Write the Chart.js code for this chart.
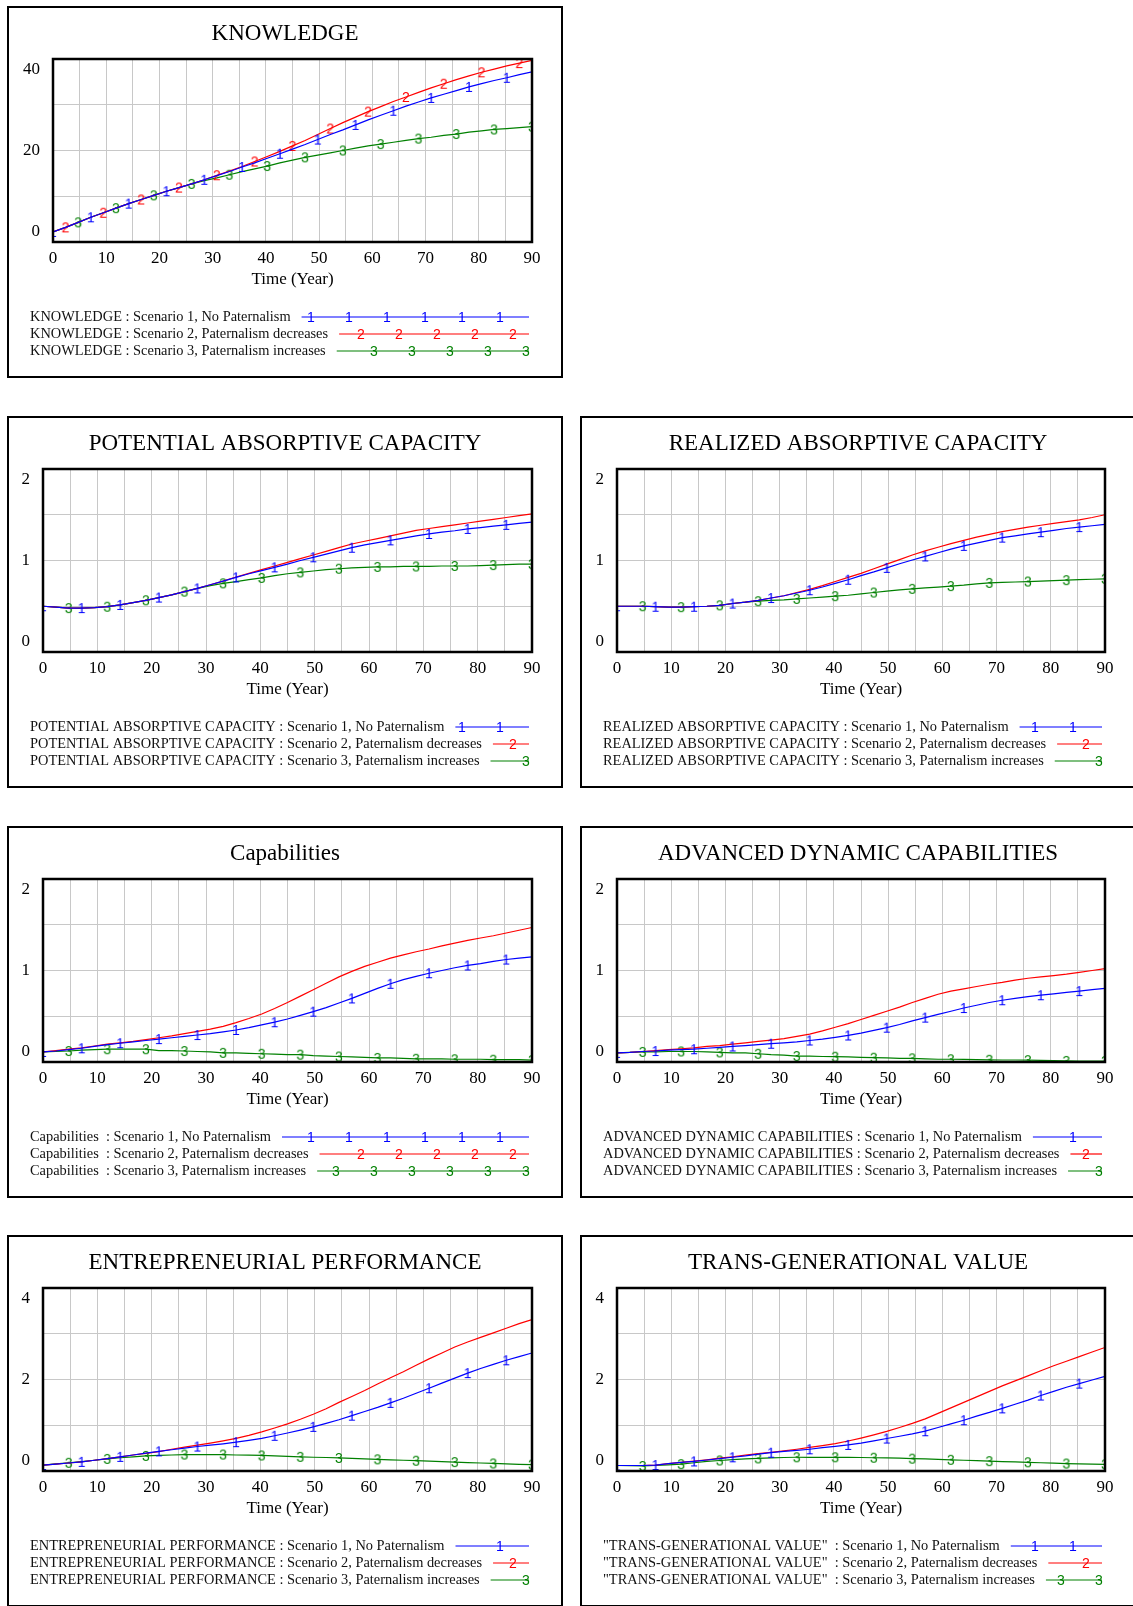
<!DOCTYPE html>
<html>
<head>
<meta charset="utf-8">
<script src="https://cdn.jsdelivr.net/npm/chart.js@4.4.0/dist/chart.umd.min.js"></script>
<style>
  html, body { margin: 0; padding: 0; background: #fff; }
  body { width: 1133px; height: 1606px; position: relative; overflow: hidden; }
  .panel { position: absolute; width: 556px; height: 372px; border: 2px solid #000; box-sizing: border-box; background: #fff; }
  .panel canvas { display: block; }
</style>
</head>
<body>
<div class="panel" style="left:7px;top:6px"><canvas id="c0" width="552" height="368"></canvas></div>
<div class="panel" style="left:7px;top:416px"><canvas id="c1" width="552" height="368"></canvas></div>
<div class="panel" style="left:580px;top:416px"><canvas id="c2" width="552" height="368"></canvas></div>
<div class="panel" style="left:7px;top:826px"><canvas id="c3" width="552" height="368"></canvas></div>
<div class="panel" style="left:580px;top:826px"><canvas id="c4" width="552" height="368"></canvas></div>
<div class="panel" style="left:7px;top:1235px"><canvas id="c5" width="552" height="368"></canvas></div>
<div class="panel" style="left:580px;top:1235px"><canvas id="c6" width="552" height="368"></canvas></div>
<script>
// simulation time (Year)
const times = [0, 2.37, 4.74, 7.11, 9.47, 11.84, 14.21, 16.58, 18.95, 21.32, 23.68, 26.05, 28.42, 30.79, 33.16, 35.53, 37.89, 40.26, 42.63, 45,
  47.37, 49.74, 52.11, 54.47, 56.84, 59.21, 61.58, 63.95, 66.32, 68.68, 71.05, 73.42, 75.79, 78.16, 80.53, 82.89, 85.26, 87.63, 90];

const scenarios = ['Scenario 1, No Paternalism', 'Scenario 2, Paternalism decreases', 'Scenario 3, Paternalism increases'];

const knowledge1 = [2.2, 3.2, 4.3, 5.4, 6.4, 7.4, 8.4, 9.3, 10.2, 11.1, 11.9, 12.7, 13.6, 14.5, 15.4, 16.4, 17.3, 18.3, 19.3, 20.3,
  21.3, 22.4, 23.5, 24.5, 25.6, 26.7, 27.7, 28.7, 29.7, 30.6, 31.5, 32.3, 33.1, 33.9, 34.6, 35.3, 35.9, 36.6, 37.2];
const knowledge2 = [2.2, 3.2, 4.3, 5.4, 6.4, 7.4, 8.4, 9.3, 10.2, 11.1, 11.9, 12.7, 13.6, 14.6, 15.5, 16.5, 17.6, 18.7, 19.8, 21.0,
  22.2, 23.5, 24.8, 26.1, 27.3, 28.5, 29.6, 30.7, 31.7, 32.7, 33.7, 34.6, 35.5, 36.3, 37.1, 37.8, 38.5, 39.1, 39.7];
const knowledge3 = [2.2, 3.2, 4.3, 5.4, 6.4, 7.4, 8.4, 9.3, 10.2, 11.1, 11.9, 12.7, 13.4, 14.0, 14.7, 15.4, 16.0, 16.6, 17.3, 17.9,
  18.5, 19.0, 19.5, 20.0, 20.5, 21.0, 21.4, 21.8, 22.2, 22.6, 22.9, 23.3, 23.6, 24.0, 24.3, 24.6, 24.8, 25.0, 25.2];

const potential1 = [0.50, 0.49, 0.48, 0.48, 0.485, 0.495, 0.515, 0.54, 0.565, 0.595, 0.625, 0.66, 0.695, 0.735, 0.775, 0.815, 0.855, 0.89, 0.925, 0.96,
  1.00, 1.035, 1.07, 1.105, 1.14, 1.17, 1.195, 1.22, 1.245, 1.27, 1.29, 1.31, 1.325, 1.345, 1.36, 1.375, 1.39, 1.405, 1.42];
const potential2 = [0.50, 0.49, 0.48, 0.48, 0.485, 0.495, 0.515, 0.54, 0.565, 0.595, 0.625, 0.66, 0.695, 0.735, 0.775, 0.82, 0.86, 0.90, 0.94, 0.98,
  1.02, 1.06, 1.10, 1.14, 1.18, 1.21, 1.24, 1.27, 1.30, 1.33, 1.35, 1.37, 1.39, 1.41, 1.43, 1.45, 1.47, 1.49, 1.51];
const potential3 = [0.50, 0.49, 0.48, 0.48, 0.485, 0.495, 0.515, 0.54, 0.565, 0.595, 0.625, 0.66, 0.695, 0.725, 0.75, 0.77, 0.79, 0.81, 0.835, 0.855,
  0.87, 0.885, 0.90, 0.91, 0.92, 0.925, 0.93, 0.93, 0.935, 0.935, 0.935, 0.94, 0.94, 0.94, 0.945, 0.95, 0.955, 0.96, 0.96];

const realized1 = [0.50, 0.50, 0.50, 0.495, 0.49, 0.49, 0.495, 0.50, 0.51, 0.53, 0.545, 0.565, 0.59, 0.615, 0.645, 0.675, 0.71, 0.75, 0.79, 0.835,
  0.875, 0.92, 0.965, 1.005, 1.045, 1.085, 1.125, 1.16, 1.19, 1.22, 1.25, 1.27, 1.29, 1.31, 1.33, 1.35, 1.365, 1.38, 1.395];
const realized2 = [0.50, 0.50, 0.50, 0.495, 0.49, 0.49, 0.495, 0.50, 0.51, 0.53, 0.545, 0.565, 0.59, 0.615, 0.65, 0.685, 0.725, 0.77, 0.815, 0.86,
  0.91, 0.96, 1.01, 1.06, 1.105, 1.145, 1.185, 1.22, 1.255, 1.285, 1.315, 1.34, 1.365, 1.385, 1.405, 1.425, 1.445, 1.47, 1.50];
const realized3 = [0.50, 0.50, 0.50, 0.495, 0.49, 0.49, 0.495, 0.50, 0.51, 0.53, 0.545, 0.555, 0.565, 0.57, 0.58, 0.59, 0.60, 0.61, 0.62, 0.635,
  0.65, 0.665, 0.68, 0.69, 0.70, 0.71, 0.72, 0.73, 0.745, 0.755, 0.76, 0.765, 0.77, 0.775, 0.78, 0.785, 0.79, 0.795, 0.80];

const capabilities1 = [0.11, 0.12, 0.135, 0.15, 0.17, 0.19, 0.205, 0.22, 0.235, 0.25, 0.265, 0.28, 0.295, 0.31, 0.33, 0.35, 0.375, 0.405, 0.435, 0.47,
  0.51, 0.55, 0.595, 0.645, 0.695, 0.75, 0.805, 0.855, 0.90, 0.935, 0.97, 1.00, 1.03, 1.055, 1.075, 1.10, 1.12, 1.135, 1.15];
const capabilities2 = [0.11, 0.125, 0.14, 0.155, 0.175, 0.195, 0.21, 0.225, 0.245, 0.265, 0.285, 0.31, 0.335, 0.36, 0.39, 0.43, 0.475, 0.525, 0.585, 0.65,
  0.72, 0.79, 0.86, 0.93, 0.99, 1.045, 1.09, 1.135, 1.17, 1.205, 1.235, 1.27, 1.30, 1.33, 1.355, 1.38, 1.41, 1.44, 1.47];
const capabilities3 = [0.11, 0.115, 0.12, 0.13, 0.135, 0.14, 0.14, 0.14, 0.14, 0.125, 0.125, 0.12, 0.115, 0.11, 0.10, 0.10, 0.095, 0.09, 0.085, 0.08,
  0.08, 0.07, 0.065, 0.06, 0.055, 0.05, 0.045, 0.045, 0.04, 0.035, 0.035, 0.035, 0.03, 0.03, 0.03, 0.025, 0.025, 0.025, 0.02];

const advanced1 = [0.10, 0.105, 0.115, 0.12, 0.13, 0.135, 0.14, 0.15, 0.16, 0.17, 0.18, 0.19, 0.20, 0.21, 0.22, 0.235, 0.25, 0.27, 0.29, 0.315,
  0.345, 0.375, 0.41, 0.45, 0.485, 0.52, 0.555, 0.59, 0.62, 0.65, 0.675, 0.695, 0.715, 0.73, 0.745, 0.76, 0.775, 0.79, 0.805];
const advanced2 = [0.10, 0.105, 0.115, 0.125, 0.135, 0.145, 0.155, 0.17, 0.18, 0.195, 0.21, 0.225, 0.24, 0.255, 0.28, 0.305, 0.34, 0.38, 0.42, 0.465,
  0.51, 0.555, 0.60, 0.65, 0.695, 0.74, 0.775, 0.80, 0.825, 0.85, 0.87, 0.895, 0.915, 0.93, 0.945, 0.96, 0.98, 1.00, 1.02];
const advanced3 = [0.10, 0.105, 0.11, 0.11, 0.115, 0.115, 0.115, 0.11, 0.105, 0.10, 0.10, 0.09, 0.08, 0.075, 0.065, 0.065, 0.06, 0.058, 0.055, 0.05,
  0.047, 0.045, 0.04, 0.04, 0.035, 0.03, 0.03, 0.028, 0.025, 0.024, 0.022, 0.022, 0.02, 0.018, 0.015, 0.012, 0.01, 0.01, 0.01];

const performance1 = [0.13, 0.15, 0.175, 0.20, 0.235, 0.27, 0.31, 0.35, 0.39, 0.43, 0.465, 0.50, 0.535, 0.565, 0.595, 0.63, 0.67, 0.715, 0.77, 0.83,
  0.895, 0.965, 1.04, 1.12, 1.21, 1.30, 1.39, 1.49, 1.59, 1.70, 1.81, 1.92, 2.03, 2.14, 2.24, 2.33, 2.42, 2.50, 2.58];
const performance2 = [0.13, 0.15, 0.175, 0.20, 0.235, 0.27, 0.31, 0.35, 0.385, 0.425, 0.475, 0.52, 0.565, 0.61, 0.66, 0.715, 0.78, 0.855, 0.94, 1.03,
  1.13, 1.24, 1.36, 1.50, 1.63, 1.76, 1.90, 2.04, 2.17, 2.31, 2.45, 2.58, 2.71, 2.82, 2.92, 3.02, 3.12, 3.22, 3.31];
const performance3 = [0.13, 0.155, 0.18, 0.205, 0.235, 0.265, 0.29, 0.31, 0.33, 0.34, 0.35, 0.36, 0.36, 0.36, 0.36, 0.35, 0.345, 0.34, 0.33, 0.32,
  0.31, 0.30, 0.295, 0.285, 0.275, 0.265, 0.255, 0.245, 0.235, 0.225, 0.215, 0.205, 0.195, 0.185, 0.175, 0.165, 0.155, 0.145, 0.14];

const transValue1 = [0.12, 0.12, 0.12, 0.13, 0.16, 0.19, 0.21, 0.24, 0.27, 0.30, 0.33, 0.37, 0.40, 0.43, 0.45, 0.475, 0.51, 0.54, 0.57, 0.61,
  0.66, 0.71, 0.76, 0.81, 0.87, 0.95, 1.03, 1.11, 1.20, 1.28, 1.37, 1.46, 1.55, 1.65, 1.74, 1.83, 1.91, 1.99, 2.07];
const transValue2 = [0.12, 0.12, 0.12, 0.13, 0.16, 0.19, 0.215, 0.245, 0.28, 0.31, 0.345, 0.38, 0.41, 0.44, 0.475, 0.515, 0.555, 0.60, 0.655, 0.72,
  0.79, 0.865, 0.95, 1.04, 1.14, 1.26, 1.38, 1.50, 1.62, 1.74, 1.86, 1.97, 2.08, 2.19, 2.30, 2.40, 2.50, 2.60, 2.70];
const transValue3 = [0.12, 0.115, 0.11, 0.12, 0.135, 0.15, 0.18, 0.21, 0.23, 0.25, 0.265, 0.275, 0.285, 0.295, 0.30, 0.30, 0.30, 0.30, 0.30, 0.295,
  0.29, 0.285, 0.28, 0.27, 0.265, 0.255, 0.245, 0.235, 0.225, 0.215, 0.205, 0.20, 0.19, 0.18, 0.17, 0.163, 0.157, 0.15, 0.145];

const FONT = '"Liberation Serif", "Times New Roman", serif';
const COLORS = ['#0000ff', '#ff0000', '#008000'];
const LEGEND_OFFSETS = [28.7, 16.4, 3.1];

function markerImage(digit, color) {
    const c = document.createElement('canvas');
    c.width = 12;
    c.height = 18;
    const g = c.getContext('2d');
    g.fillStyle = color;
    g.font = '14px "Liberation Sans", Arial, sans-serif';
    g.textAlign = 'center';
    g.fillText(digit, 6, 9 + 14 * 0.36);
    return c;
}
const markers = COLORS.map((col, i) => markerImage(String(i + 1), col));

// plot frame + Vensim style legend under the axis
const vensimLegend = {
    id: 'vensimLegend',
    afterDraw(chart, args, opts) {
        const { ctx, chartArea } = chart;
        ctx.save();
        ctx.strokeStyle = '#000';
        ctx.lineWidth = 2.5;
        ctx.strokeRect(chartArea.left, chartArea.top, chartArea.right - chartArea.left, chartArea.bottom - chartArea.top);

        ctx.font = '14.4px ' + FONT;
        ctx.textBaseline = 'middle';
        chart.data.datasets.forEach((ds, i) => {
            const y = chartArea.bottom + 75 + i * 17;
            const text = opts.name + ' : ' + ds.label;
            ctx.fillStyle = '#111';
            ctx.fillText(text, 21, y);
            const start = 21 + ctx.measureText(text).width + 11;
            const end = 520;
            ctx.strokeStyle = ds.borderColor;
            ctx.lineWidth = 1.2;
            ctx.beginPath();
            ctx.moveTo(start, y);
            ctx.lineTo(end, y);
            ctx.stroke();
            for (let x = end - LEGEND_OFFSETS[i]; x >= start + 7; x -= 37.9) {
                ctx.drawImage(markers[i], Math.round(x - 6), Math.round(y - 9));
            }
        });
        ctx.restore();
    }
};

const panels = [
    { canvas: 'c0', title: 'KNOWLEDGE', name: 'KNOWLEDGE', series: [knowledge1, knowledge2, knowledge3], yMax: 40, yWidth: 44, marks: [true, true, true] },
    { canvas: 'c1', title: 'POTENTIAL ABSORPTIVE CAPACITY', name: 'POTENTIAL ABSORPTIVE CAPACITY', series: [potential1, potential2, potential3], yMax: 2, yWidth: 34, marks: [true, false, true] },
    { canvas: 'c2', title: 'REALIZED ABSORPTIVE CAPACITY', name: 'REALIZED ABSORPTIVE CAPACITY', series: [realized1, realized2, realized3], yMax: 2, yWidth: 35, marks: [true, false, true] },
    { canvas: 'c3', title: 'Capabilities', name: 'Capabilities ', series: [capabilities1, capabilities2, capabilities3], yMax: 2, yWidth: 34, marks: [true, false, true] },
    { canvas: 'c4', title: 'ADVANCED DYNAMIC CAPABILITIES', name: 'ADVANCED DYNAMIC CAPABILITIES', series: [advanced1, advanced2, advanced3], yMax: 2, yWidth: 35, marks: [true, false, true] },
    { canvas: 'c5', title: 'ENTREPRENEURIAL PERFORMANCE', name: 'ENTREPRENEURIAL PERFORMANCE', series: [performance1, performance2, performance3], yMax: 4, yWidth: 34, marks: [true, false, true] },
    { canvas: 'c6', title: 'TRANS-GENERATIONAL VALUE', name: '"TRANS-GENERATIONAL VALUE" ', series: [transValue1, transValue2, transValue3], yMax: 4, yWidth: 35, marks: [true, false, true] }
];

panels.forEach(p => {
    const yMax = p.yMax;
    new Chart(document.getElementById(p.canvas).getContext('2d'), {
        type: 'line',
        data: {
            datasets: p.series.map((vals, i) => ({
                label: scenarios[i],
                data: times.map((t, k) => ({ x: t, y: vals[k] })),
                borderColor: COLORS[i],
                backgroundColor: COLORS[i],
                borderWidth: 1.2,
                tension: 0,
                fill: false,
                pointStyle: markers[i],
                pointRadius: ctx => (p.marks[i] && ctx.dataIndex % 3 === i) ? 5 : 0,
                pointHoverRadius: 0
            }))
        },
        options: {
            responsive: false,
            animation: false,
            devicePixelRatio: 1,
            events: [],
            layout: { padding: { left: 0, right: 0, top: 0, bottom: 84 } },
            plugins: {
                legend: { display: false },
                tooltip: { enabled: false },
                title: {
                    display: true,
                    text: p.title,
                    color: '#000',
                    font: { family: FONT, size: 23, weight: 'normal', lineHeight: 1.2 },
                    padding: { top: 12, bottom: 11.4 }
                },
                vensimLegend: { name: p.name }
            },
            scales: {
                x: {
                    type: 'linear',
                    min: 0,
                    max: 90,
                    border: { display: false },
                    grid: { color: '#c8c8c8', lineWidth: 1, drawTicks: false },
                    ticks: {
                        stepSize: 5,
                        autoSkip: false,
                        maxRotation: 0,
                        padding: 6,
                        color: '#000',
                        font: { family: FONT, size: 17 },
                        callback: v => (v % 10 === 0 ? String(v) : '')
                    },
                    title: {
                        display: true,
                        text: 'Time (Year)',
                        color: '#000',
                        font: { family: FONT, size: 17 },
                        padding: { top: 0, bottom: 2 }
                    },
                    afterFit: s => { s.height = 50; }
                },
                y: {
                    type: 'linear',
                    min: 0,
                    max: yMax,
                    border: { display: false },
                    grid: { color: '#c8c8c8', lineWidth: 1, drawTicks: false },
                    ticks: {
                        stepSize: yMax / 4,
                        autoSkip: false,
                        padding: 13,
                        color: '#000',
                        font: { family: FONT, size: 17 },
                        callback: v => v === yMax ? ['', String(v)] : v === 0 ? ['0', ''] : v === yMax / 2 ? String(v) : ''
                    },
                    afterFit: s => { s.width = p.yWidth; }
                },
                yr: {
                    type: 'linear',
                    position: 'right',
                    border: { display: false },
                    grid: { display: false },
                    ticks: { display: false },
                    afterFit: s => { s.width = 29; }
                }
            }
        },
        plugins: [vensimLegend]
    });
});
</script>
</body>
</html>
